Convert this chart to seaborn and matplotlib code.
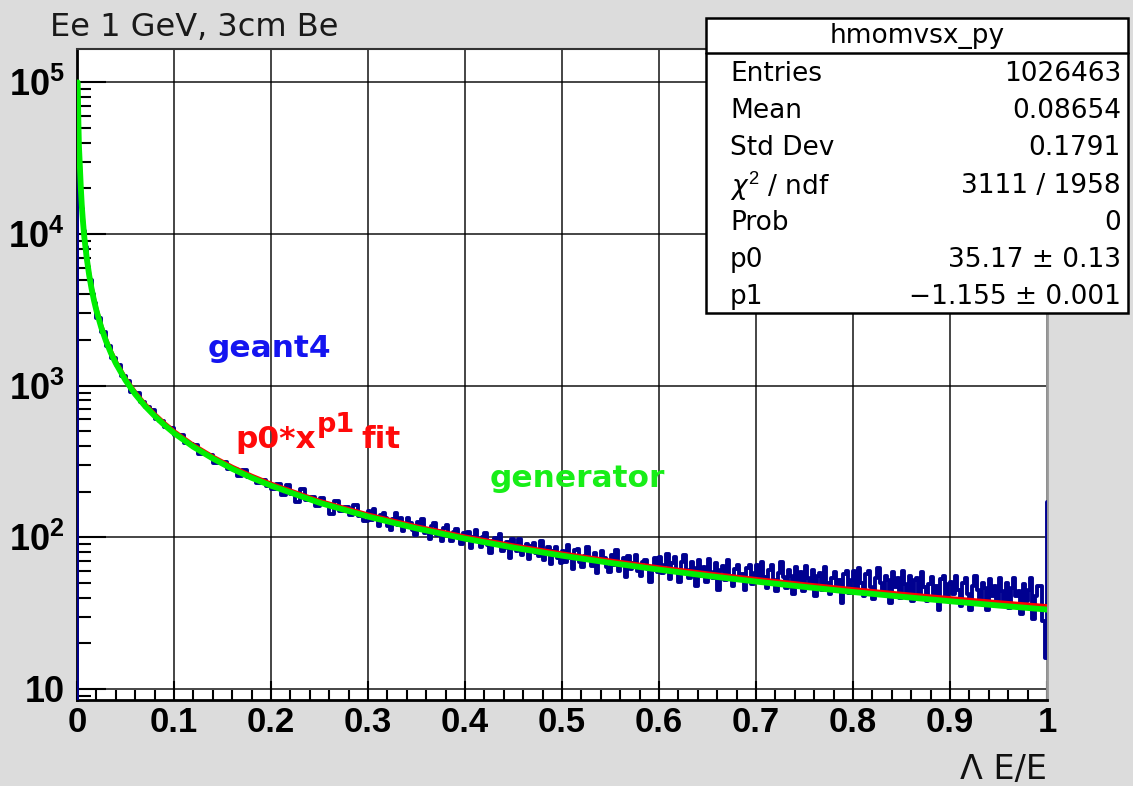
import numpy as np
import pandas as pd
import matplotlib
matplotlib.use("Agg")
import matplotlib.pyplot as plt
import seaborn as sns
from matplotlib.patches import Rectangle
from matplotlib.lines import Line2D
from matplotlib.ticker import FixedLocator, NullFormatter

# ---------------- data ----------------
# geant4 histogram: bin edges and counts
g4_edges_low = [0.0, 0.0005, 0.001, 0.0015, 0.002, 0.003, 0.004, 0.005, 0.006,
                0.008, 0.010, 0.0125, 0.015, 0.0175, 0.02, 0.025]
g4_edges_mid1 = [round(float(v), 4) for v in np.linspace(0.03, 0.3, 55)]
g4_edges_mid2 = [round(float(v), 5) for v in np.linspace(0.3025, 0.99, 276)]
g4_edges_end = [0.995, 0.998, 0.9995, 1.0]
g4_edges = g4_edges_low + g4_edges_mid1 + g4_edges_mid2 + g4_edges_end

g4_counts_000_003 = [1, 88000, 70000, 55000, 36000, 25000, 17500, 14600, 10500, 8200,
                     6100, 5000, 4050, 3500, 2780, 2260]
g4_counts_003_010 = [1840, 1528, 1377, 1152, 1069, 915, 891, 776, 722, 689, 602, 586, 534, 522]
g4_counts_010_020 = [473, 471, 416, 413, 409, 357, 356, 351, 311, 311, 315, 282, 284, 255, 276,
                     249, 246, 228, 238, 218]
g4_counts_020_030 = [209, 226, 189, 220, 194, 171, 207, 177, 184, 161, 183, 166, 143, 174, 149,
                     159, 140, 164, 139, 128]
g4_counts_030_040 = [149, 130, 154, 134, 119, 141, 145, 134, 119, 112, 132, 145, 120, 135, 110, 121,
                     134, 124, 112, 104, 127, 113, 132, 106, 113, 97, 118, 124, 103, 110, 94, 115,
                     120, 102, 95, 108, 113, 101, 90, 106]
g4_counts_040_050 = [96, 109, 85, 101, 111, 95, 87, 101, 106, 89, 79, 94, 99, 89, 105, 81,
                     85, 93, 73, 97, 89, 81, 97, 76, 83, 91, 72, 88, 92, 79, 75, 94,
                     71, 81, 86, 67, 81, 87, 73, 68]
g4_counts_050_060 = [81, 69, 89, 73, 62, 82, 84, 69, 64, 75, 86, 71, 65, 79, 58, 69,
                     81, 73, 64, 59, 77, 66, 82, 60, 68, 73, 55, 75, 62, 68, 77, 60,
                     56, 69, 71, 62, 51, 64, 73, 59]
g4_counts_060_070 = [74, 58, 66, 78, 53, 68, 74, 60, 51, 69, 76, 61, 54, 69, 63, 48,
                     71, 56, 64, 51, 72, 59, 54, 68, 45, 61, 65, 52, 71, 56, 48, 62,
                     66, 52, 57, 45, 63, 66, 49, 58]
g4_counts_070_080 = [66, 51, 69, 55, 46, 61, 66, 52, 44, 58, 69, 55, 46, 61, 56, 42,
                     64, 51, 59, 44, 65, 54, 47, 61, 41, 56, 58, 45, 64, 50, 42, 54,
                     59, 46, 52, 37, 57, 60, 43, 52]
g4_counts_080_090 = [60, 46, 63, 50, 41, 57, 60, 47, 39, 54, 63, 50, 42, 56, 52, 37,
                     59, 47, 54, 40, 60, 49, 42, 56, 38, 52, 54, 41, 59, 47, 38, 49,
                     55, 42, 48, 33, 53, 56, 40, 49]
g4_counts_090_100 = [51, 42, 56, 45, 35, 50, 54, 42, 33, 48, 56, 45, 37, 50, 46, 33,
                     53, 41, 48, 36, 54, 44, 38, 50, 34, 46, 54, 41, 44, 31, 49, 38,
                     45, 54, 29, 41,
                     48, 28, 16, 170]

g4_counts = (g4_counts_000_003 + g4_counts_003_010 + g4_counts_010_020 +
             g4_counts_020_030 + g4_counts_030_040 + g4_counts_040_050 +
             g4_counts_050_060 + g4_counts_060_070 + g4_counts_070_080 +
             g4_counts_080_090 + g4_counts_090_100)

# p0*x^p1 fit curve
fit_x = [0.003, 0.004, 0.005, 0.006, 0.0075, 0.01, 0.0125, 0.015, 0.0175, 0.02, 0.025, 0.03,
         0.035, 0.04, 0.05, 0.06, 0.07, 0.08, 0.09, 0.1, 0.12, 0.14, 0.16, 0.18, 0.2, 0.25,
         0.3, 0.35, 0.4, 0.45, 0.5, 0.55, 0.6, 0.65, 0.7, 0.75, 0.8, 0.85, 0.9, 0.95, 1.0]
fit_y = [28800, 20700, 15900, 12950, 10000, 7180, 5550, 4500, 3763, 3225, 2493, 2019,
         1689, 1448, 1119, 906, 759, 651, 568, 502, 407, 341, 292, 255, 226, 174,
         141.4, 118.2, 101.3, 88.4, 78.3, 70.2, 63.4, 57.8, 53.1, 49.0, 45.5, 42.4, 39.7, 37.3, 35.17]

# generator curve
gen_x = [0.0007, 0.001, 0.0015, 0.002, 0.003, 0.004, 0.005, 0.006, 0.0075, 0.01, 0.0125,
         0.015, 0.0175, 0.02, 0.025, 0.03, 0.035, 0.04, 0.05, 0.06, 0.07, 0.08, 0.09, 0.1,
         0.12, 0.14, 0.16, 0.18, 0.2, 0.25, 0.3, 0.35, 0.4, 0.45, 0.5, 0.55, 0.6, 0.65,
         0.7, 0.75, 0.8, 0.85, 0.9, 0.95, 1.0]
gen_y = [100000, 78000, 52000, 38000, 27500, 19800, 15200, 12400, 9600, 6950, 5380,
         4370, 3650, 3130, 2420, 1960, 1640, 1405, 1086, 879, 736, 632, 551, 487,
         395, 331, 283, 247, 219, 169, 137, 114.5, 98, 85.5, 75.7, 67.8, 61.2, 55.7,
         51.1, 47.1, 43.6, 40.6, 37.9, 35.5, 33.4]

# ticks
xtick_vals = [0, 0.1, 0.2, 0.3, 0.4, 0.5, 0.6, 0.7, 0.8, 0.9, 1.0]
xtick_labels = ["0", "0.1", "0.2", "0.3", "0.4", "0.5", "0.6", "0.7", "0.8", "0.9", "1"]
ytick_vals = [10, 100, 1000, 10000, 100000]
ytick_labels = ["10", r"$\mathbf{10^{2}}$", r"$\mathbf{10^{3}}$", r"$\mathbf{10^{4}}$", r"$\mathbf{10^{5}}$"]

# stats box
stats_title = "hmomvsx_py"
stats_names = ["Entries", "Mean", "Std Dev", r"$\chi^{2}$ / ndf", "Prob", "p0", "p1"]
stats_values = ["1026463", "0.08654", "0.1791", "3111 / 1958", "0",
                "35.17 \u00b1 0.13", "\u22121.155 \u00b1 0.001"]

title_text = "Ee 1 GeV, 3cm Be"
xlabel_text = "\u039b E/E"

# ---------------- style ----------------
sns.set_style("white")
plt.rcParams['font.family'] = ['DejaVu Sans']
plt.rcParams['text.color'] = 'black'
plt.rcParams['mathtext.fontset'] = 'custom'
plt.rcParams['mathtext.rm'] = 'Liberation Sans'
plt.rcParams['mathtext.bf'] = 'Liberation Sans:bold'
plt.rcParams['mathtext.it'] = 'DejaVu Sans:italic'

W, H = 1133, 786
fig = plt.figure(figsize=(W / 100, H / 100), dpi=100)
fig.patch.set_facecolor('#dcdcdc')


def fx(px):
    return px / W


def fy(py):
    return 1 - py / H


ax = fig.add_axes([fx(77), fy(700), (1047 - 77) / W, (700 - 49) / H])
ax.set_facecolor('white')

edges_arr = np.array(g4_edges)
g4_df = pd.DataFrame({
    "dE": 0.5 * (edges_arr[:-1] + edges_arr[1:]),
    "counts": np.array(g4_counts, dtype=float),
})
gen_df = pd.DataFrame({"dE": gen_x, "n": gen_y})
fit_df = pd.DataFrame({"dE": fit_x, "n": fit_y})

sns.histplot(data=g4_df, x="dE", weights="counts", bins=g4_edges, element='step', fill=False,
             color='#000090', linewidth=2.8, ax=ax, zorder=3)
sns.lineplot(data=fit_df, x="dE", y="n", color='#ff0000', linewidth=3, ax=ax, zorder=4)
sns.lineplot(data=gen_df, x="dE", y="n", color='#00ee00', linewidth=4.2, ax=ax, zorder=5)

ax.set_yscale('log')
ax.set_xlim(0, 1)
ax.set_ylim(8.46, 1.66e5)
ax.set_xlabel('')
ax.set_ylabel('')

ax.set_xticks(xtick_vals)
ax.set_xticklabels(xtick_labels, fontsize=25, fontweight='bold', fontfamily='Liberation Sans')
ax.xaxis.set_minor_locator(FixedLocator([v / 50 for v in range(1, 50)]))
ax.set_yticks(ytick_vals)
ax.set_yticklabels(ytick_labels, fontsize=26, fontweight='bold', fontfamily='Liberation Sans')
ymin_ticks = [m * 10 ** k for k in range(0, 6) for m in range(2, 10)]
ax.yaxis.set_minor_locator(FixedLocator(ymin_ticks))
ax.yaxis.set_minor_formatter(NullFormatter())

ax.tick_params(axis='both', which='both', bottom=True, left=True, top=False, right=False,
               direction='in', color='black', labelcolor='black')
ax.tick_params(axis='x', which='major', length=14, width=1.5, pad=4)
ax.tick_params(axis='x', which='minor', length=7, width=1.5)
ax.tick_params(axis='y', which='major', length=21, width=1.5, pad=9)
ax.tick_params(axis='y', which='minor', length=10, width=1.5)

ax.grid(True, which='major', color='black', linewidth=1.2, alpha=0.85)
ax.set_axisbelow(True)

for side in ['left', 'bottom']:
    ax.spines[side].set_color('black')
    ax.spines[side].set_linewidth(2)
ax.spines['top'].set_color('#333333')
ax.spines['top'].set_linewidth(1.5)
ax.spines['right'].set_color('#999999')
ax.spines['right'].set_linewidth(2)

# title and axis label
fig.text(fx(50), fy(27), title_text, fontsize=23, ha='left', va='center', color='#1a1a1a')
fig.text(fx(1047), fy(770), xlabel_text, fontsize=24, ha='right', va='center', color='#111111')

# annotations
fig.text(fx(208), fy(348), 'geant4', color='#1414f0', fontweight='bold', fontsize=22.5,
         ha='left', va='center')
fig.text(fx(235), fy(440), 'p0*x', color='#ff0a0a', fontweight='bold',
         fontsize=22.5, ha='left', va='center')
fig.text(fx(317), fy(425), 'p1', color='#ff0a0a', fontweight='bold',
         fontsize=19.5, ha='left', va='center')
fig.text(fx(361), fy(440), 'fit', color='#ff0a0a', fontweight='bold',
         fontsize=22.5, ha='left', va='center')
fig.text(fx(490), fy(478), 'generator', color='#18ee18', fontweight='bold', fontsize=22.5,
         ha='left', va='center')

# stats box
bx0, bx1, by0, by1 = 706, 1128, 18, 313
fig.add_artist(Rectangle((fx(bx0), fy(by1)), (bx1 - bx0) / W, (by1 - by0) / H,
                         transform=fig.transFigure, facecolor='white', edgecolor='black',
                         linewidth=1.8, zorder=10))
fig.add_artist(Line2D([fx(bx0), fx(bx1)], [fy(53), fy(53)], transform=fig.transFigure,
                      color='black', linewidth=1.8, zorder=11))
fig.text(fx((bx0 + bx1) / 2), fy(36), stats_title, fontsize=19, ha='center', va='center',
         zorder=12, color='black')
for i, (nm, val) in enumerate(zip(stats_names, stats_values)):
    yy = 74 + i * 37.2
    fig.text(fx(730), fy(yy), nm, fontsize=19, ha='left', va='center', zorder=12, color='black')
    fig.text(fx(1121), fy(yy), val, fontsize=19, ha='right', va='center', zorder=12, color='black')

fig.savefig('out.png', dpi=100, facecolor=fig.get_facecolor())
